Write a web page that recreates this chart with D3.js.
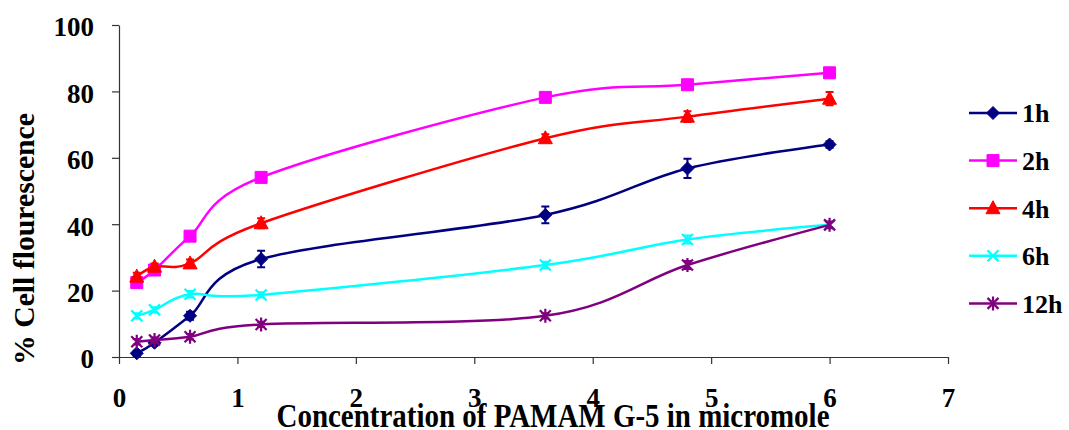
<!DOCTYPE html>
<html><head><meta charset="utf-8">
<script src="https://cdn.jsdelivr.net/npm/d3@7"></script>
<style>html,body{margin:0;padding:0;background:#fff;}svg{display:block;}</style>
</head><body>
<svg id="chart" width="1069" height="430"></svg>
<script>
const xValues = [0.15, 0.3, 0.6, 1.2, 3.6, 4.8, 6];
const seriesNames = ["1h", "2h", "4h", "6h", "12h"];
const v1h  = [1.1, 4.3, 12.4, 29.5, 42.8, 56.8, 64.0];
const v2h  = [22.4, 26.2, 36.4, 54.1, 78.2, 82.0, 85.6];
const v4h  = [24.2, 27.2, 28.2, 40.3, 65.9, 72.4, 77.8];
const v6h  = [12.4, 14.2, 18.9, 18.7, 27.7, 35.4, 39.8];
const v12h = [4.6, 5.1, 6.1, 9.8, 12.4, 27.7, 39.8];
const e1h  = [0.8, 0.8, 1.2, 2.5, 2.5, 2.9, 1.0];
const e2h  = [0.8, 0.8, 0.8, 0.8, 0.8, 0.8, 0.8];
const e4h  = [1.2, 1.0, 1.2, 1.5, 1.2, 1.6, 2.0];
const e6h  = [0.8, 0.8, 1.0, 0.8, 1.0, 1.2, 0.8];
const e12h = [0.8, 0.8, 0.8, 0.8, 0.8, 1.2, 1.0];
const xTicks = [0, 1, 2, 3, 4, 5, 6, 7];
const yTicks = [0, 20, 40, 60, 80, 100];
const xTitle = "Concentration of PAMAM G-5 in micromole";
const yTitle = "% Cell flourescence";

const colors = ["#000080", "#FF00FF", "#FF0000", "#00FFFF", "#800080"];
const markers = ["diamond", "square", "triangle", "cross", "asterisk"];
const values = [v1h, v2h, v4h, v6h, v12h];
const errors = [e1h, e2h, e4h, e6h, e12h];

const svg = d3.select("#chart");
const font = "Liberation Serif, Times New Roman, serif";
const x = d3.scaleLinear().domain([0, 7]).range([119, 948]);
const y = d3.scaleLinear().domain([0, 100]).range([357, 25]);

// axes
const yAxis = svg.append("g").attr("transform", `translate(${x(0)},0)`)
  .call(d3.axisLeft(y).tickValues(yTicks).tickFormat(d3.format("d")).tickSize(7).tickSizeOuter(0).tickPadding(18));
const xAxis = svg.append("g").attr("transform", `translate(0,${y(0)})`)
  .call(d3.axisBottom(x).tickValues(xTicks).tickFormat(d3.format("d")).tickSize(7).tickSizeOuter(0).tickPadding(29));
[yAxis, xAxis].forEach(g => {
  g.attr("font-family", null).attr("font-size", null);
  g.select(".domain").attr("stroke", "#333").attr("stroke-width", 1.2);
  g.selectAll(".tick line").attr("stroke", "#333").attr("stroke-width", 1.2);
  g.selectAll("text").attr("font-family", font).attr("font-weight", "bold")
    .attr("font-size", 27).attr("fill", "#000");
});
yAxis.selectAll("text").attr("dy", "0.4em");
xAxis.selectAll("text").attr("dy", "0.5em");

svg.append("text").attr("x", 553).attr("y", 427).attr("text-anchor", "middle")
  .attr("font-family", font).attr("font-weight", "bold").attr("font-size", 33)
  .attr("textLength", 553).attr("lengthAdjust", "spacingAndGlyphs").text(xTitle);
svg.append("text").attr("transform", "translate(34,239) rotate(-90)").attr("text-anchor", "middle")
  .attr("font-family", font).attr("font-weight", "bold").attr("font-size", 29)
  .attr("textLength", 252).attr("lengthAdjust", "spacingAndGlyphs").text(yTitle);

function markerPath(type) {
  switch (type) {
    case "diamond": return "M0,-6.5L6.5,0L0,6.5L-6.5,0Z";
    case "square": return "M-6,-6H6V6H-6Z";
    case "triangle": return "M0,-7.5L7,5.5L-7,5.5Z";
    case "cross": return "M-5.5,-5.5L5.5,5.5M5.5,-5.5L-5.5,5.5";
    case "asterisk": return "M-5.5,-5.5L5.5,5.5M5.5,-5.5L-5.5,5.5M0,-7L0,7";
  }
}
function drawMarker(g, type, color, cx, cy) {
  const filled = type !== "cross" && type !== "asterisk";
  g.append("path").attr("d", markerPath(type)).attr("transform", `translate(${cx},${cy})`)
    .attr("fill", filled ? color : "none").attr("stroke", color)
    .attr("stroke-width", filled ? 1 : 2.2);
}

const line = d3.line().x(d => x(d[0])).y(d => y(d[1])).curve(d3.curveCardinal.tension(0));

values.forEach((vals, i) => {
  const g = svg.append("g");
  const pts = xValues.map((xv, j) => [xv, vals[j]]);
  g.append("path").attr("d", line(pts)).attr("fill", "none")
    .attr("stroke", colors[i]).attr("stroke-width", 2.5);
  pts.forEach((p, j) => {
    const e = errors[i][j];
    const cx = x(p[0]), y1 = y(p[1] + e), y2 = y(p[1] - e);
    g.append("path").attr("d", `M${cx},${y1}V${y2}M${cx - 4},${y1}H${cx + 4}M${cx - 4},${y2}H${cx + 4}`)
      .attr("stroke", colors[i]).attr("stroke-width", 2).attr("fill", "none");
  });
  pts.forEach(p => drawMarker(g, markers[i], colors[i], x(p[0]), y(p[1])));
});

// legend
seriesNames.forEach((name, i) => {
  const ly = 113 + i * 47.6;
  const g = svg.append("g");
  g.append("line").attr("x1", 969).attr("x2", 1017).attr("y1", ly).attr("y2", ly)
    .attr("stroke", colors[i]).attr("stroke-width", 2.5);
  drawMarker(g, markers[i], colors[i], 993, ly);
  g.append("text").attr("x", 1022).attr("y", ly).attr("dy", "0.36em")
    .attr("font-family", font).attr("font-weight", "bold").attr("font-size", 26)
    .text(name);
});
</script>
</body></html>
